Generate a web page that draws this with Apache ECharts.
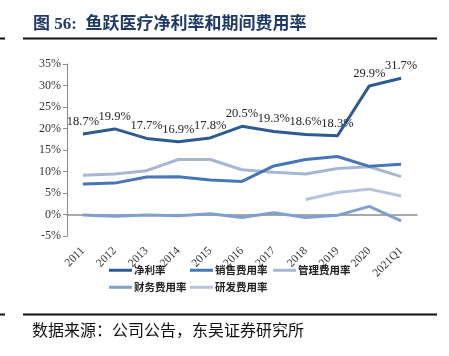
<!DOCTYPE html>
<html><head><meta charset="utf-8">
<script src="https://cdn.jsdelivr.net/npm/echarts@6/dist/echarts.min.js"></script>
<style>html,body{margin:0;padding:0;background:#fff}#c{width:449px;height:356px}</style>
</head><body><div id="c"></div>
<script>
var categories = ['2011','2012','2013','2014','2015','2016','2017','2018','2019','2020','2021Q1'];
var netMargin = [18.7,19.9,17.7,16.9,17.8,20.5,19.3,18.6,18.3,29.9,31.7];
var salesRate = [7.1,7.3,8.7,8.8,8.0,7.7,11.3,12.8,13.5,11.2,11.7];
var mgmtRate = [9.1,9.4,10.2,12.8,12.8,10.4,9.8,9.4,10.7,11.1,8.8];
var finRate = [-0.1,-0.4,-0.1,-0.3,0.2,-0.7,0.4,-0.7,-0.2,1.9,-1.5];
var rdRate = [null,null,null,null,null,null,null,3.5,5.1,5.9,4.3];
var yTicks = {min:-5, max:35, step:5};
var seriesNames = ['净利率','销售费用率','管理费用率','财务费用率','研发费用率'];
var colors = ['#2d5a92','#4676b6','#a6b6d3','#819fcd','#b6c3dc'];

var chart = echarts.init(document.getElementById('c'));
var serif = '"Liberation Serif","Times New Roman",serif';
function legend(name, left, top){
  return {data:[name], left:left, top:top, padding:0, icon:'rect', itemWidth:23, itemHeight:3,
    itemGap:0, selectedMode:false, textStyle:{fontSize:10.5, fontWeight:'bold', color:'#222', fontFamily:'"Noto Sans CJK SC",sans-serif', padding:[0,0,0,-3]}};
}
var datas = [netMargin, salesRate, mgmtRate, finRate, rdRate];
var series = datas.map(function(d,i){
  return {name:seriesNames[i], type:'line', data:d, symbol:'circle', symbolSize:0.01, showSymbol:true, smooth:false,
    lineStyle:{width:3, color:colors[i]}, itemStyle:{color:colors[i]}, z: 10-i,
    label: i===0 ? {show:true, position:'top', distance:6, fontSize:12.5, color:'#222', fontFamily:serif,
      formatter:function(p){return p.value.toFixed(1)+'%';}} : {show:false}};
});
chart.setOption({
  animation:false,
  grid:{left:67, right:32, top:64, bottom:120},
  legend:[legend(seriesNames[0],109,265), legend(seriesNames[1],190,265), legend(seriesNames[2],273,265),
          legend(seriesNames[3],109,282), legend(seriesNames[4],190,282)],
  xAxis:{type:'category', data:categories, boundaryGap:true,
    axisLine:{onZero:true, lineStyle:{color:'#8c8c8c', width:1.5}},
    axisTick:{show:false},
    axisLabel:{rotate:45, margin:13, fontSize:11.5, color:'#333', fontFamily:serif, interval:0}},
  yAxis:{type:'value', min:yTicks.min, max:yTicks.max, interval:yTicks.step,
    axisLine:{show:true, lineStyle:{color:'#8c8c8c', width:1}},
    axisTick:{show:true, length:4, lineStyle:{color:'#8c8c8c'}},
    splitLine:{show:false},
    axisLabel:{fontSize:12, color:'#333', fontFamily:serif, margin:6, formatter:function(v){return v+'%';}}},
  series:series,
  graphic:[
    {type:'text', left:33, top:16, style:{text:'图 56:  鱼跃医疗净利率和期间费用率', fontSize:17, fontWeight:'bold',
      fill:'#1f3a68', fontFamily:'"Liberation Serif","Noto Sans CJK SC",serif'}},
    {type:'rect', shape:{x:23, y:37.5, width:414, height:2}, style:{fill:'#111'}},
    {type:'rect', shape:{x:0, y:37.5, width:5, height:2}, style:{fill:'#111'}},
    {type:'rect', shape:{x:23, y:313.5, width:414, height:2}, style:{fill:'#111'}},
    {type:'rect', shape:{x:0, y:313.5, width:5, height:2}, style:{fill:'#111'}},
    {type:'text', left:32, top:322, style:{text:'数据来源：公司公告，东吴证券研究所', fontSize:16,
      fill:'#111', fontFamily:'"Noto Sans CJK SC",sans-serif'}}
  ]
});
</script></body></html>
